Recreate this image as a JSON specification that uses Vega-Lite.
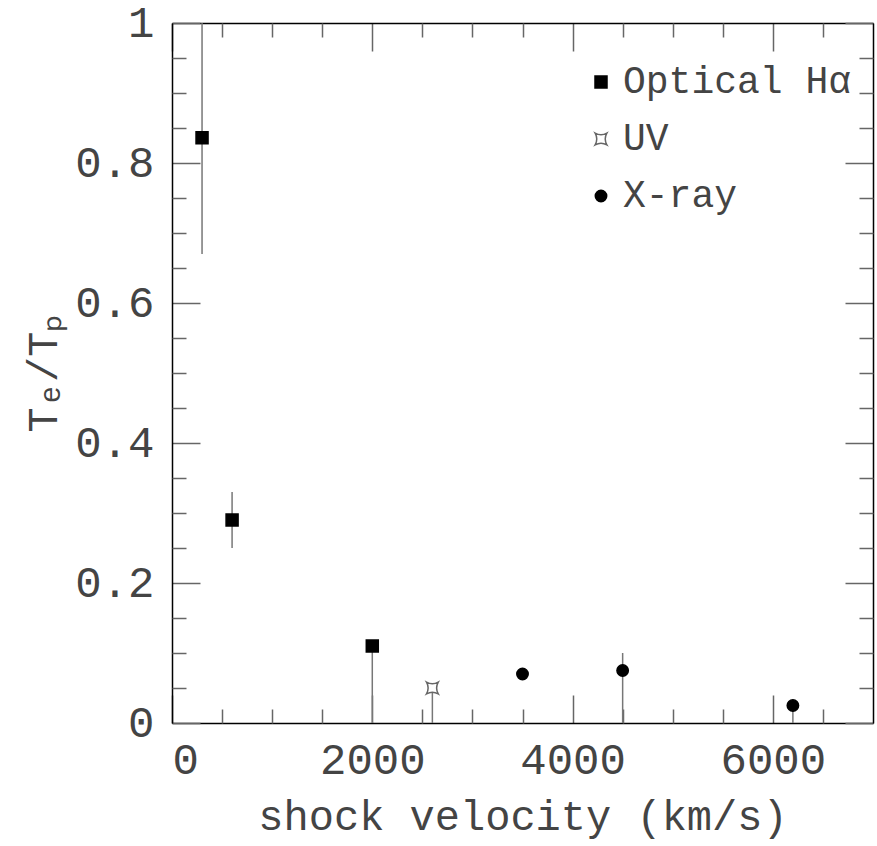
{
  "$schema": "https://vega.github.io/schema/vega-lite/v6.json",
  "width": 701,
  "height": 700,
  "autosize": {"type": "none"},
  "padding": {"left": 172, "top": 23, "right": 4, "bottom": 123},
  "background": "white",
  "config": {
    "view": {"stroke": null},
    "axis": {
      "grid": false,
      "domainColor": "#000",
      "domainWidth": 1.5,
      "tickColor": "#666",
      "tickWidth": 1.5,
      "labelFont": "Liberation Mono",
      "titleFont": "Liberation Mono",
      "labelColor": "#444",
      "titleColor": "#444",
      "labelFontWeight": "normal",
      "titleFontWeight": "normal"
    },
    "legend": {
      "orient": "none",
      "legendX": 410,
      "legendY": 40,
      "labelFont": "Liberation Mono",
      "labelFontSize": 38,
      "labelColor": "#444",
      "labelLimit": 0,
      "rowPadding": 19,
      "labelOffset": 3,
      "symbolStrokeWidth": 1.5,
      "padding": 0
    }
  },
  "data": {
    "values": [
      {"type": "Optical Hα", "v": 300, "r": 0.836, "lo": 0.67, "hi": 1.0},
      {"type": "Optical Hα", "v": 600, "r": 0.29, "lo": 0.25, "hi": 0.33},
      {"type": "Optical Hα", "v": 2000, "r": 0.11, "lo": 0, "hi": 0.11},
      {"type": "UV", "v": 2600, "r": 0.05, "lo": 0, "hi": 0.05},
      {"type": "X-ray", "v": 3500, "r": 0.07, "lo": null, "hi": null},
      {"type": "X-ray", "v": 4500, "r": 0.075, "lo": 0, "hi": 0.1},
      {"type": "X-ray", "v": 6200, "r": 0.025, "lo": 0, "hi": 0.025}
    ]
  },
  "resolve": {"axis": {"x": "independent", "y": "independent"}},
  "layer": [
    {
      "mark": {"type": "rule", "color": "#777", "strokeWidth": 1.5},
      "encoding": {
        "x": {
          "field": "v", "type": "quantitative",
          "scale": {"domain": [0, 7000], "nice": false},
          "axis": {
            "orient": "bottom", "values": [0, 2000, 4000, 6000], "format": "d",
            "tickSize": -28, "labelFontSize": 44, "labelPadding": 43,
            "title": "shock velocity (km/s)", "titleFontSize": 42, "titlePadding": 14
          }
        },
        "y": {
          "field": "lo", "type": "quantitative",
          "scale": {"domain": [0, 1], "nice": false},
          "axis": {
            "orient": "left", "values": [0, 0.2, 0.4, 0.6, 0.8, 1], "format": "~g",
            "tickSize": -28, "labelFontSize": 44, "labelPadding": 46,
            "title": "Tₑ/Tₚ", "titleFontSize": 42, "titlePadding": 9
          }
        },
        "y2": {"field": "hi"}
      }
    },
    {
      "mark": {"type": "point", "strokeWidth": 1.5, "opacity": 1},
      "encoding": {
        "x": {
          "field": "v", "type": "quantitative",
          "scale": {"domain": [0, 7000], "nice": false},
          "axis": {"orient": "top", "values": [0, 2000, 4000, 6000], "tickSize": -28, "labels": false, "title": null}
        },
        "y": {
          "field": "r", "type": "quantitative",
          "scale": {"domain": [0, 1], "nice": false},
          "axis": {"orient": "right", "values": [0, 0.2, 0.4, 0.6, 0.8, 1], "tickSize": -28, "labels": false, "title": null}
        },
        "shape": {
          "field": "type", "type": "nominal", "title": null,
          "scale": {"domain": ["Optical Hα", "UV", "X-ray"], "range": ["square", "M-1,-1Q0,-0.45,1,-1Q0.45,0,1,1Q0,0.45,-1,1Q-0.45,0,-1,-1Z", "circle"]}
        },
        "fill": {
          "field": "type", "type": "nominal", "title": null,
          "scale": {"domain": ["Optical Hα", "UV", "X-ray"], "range": ["#000", "#fff", "#000"]}
        },
        "stroke": {
          "field": "type", "type": "nominal", "title": null,
          "scale": {"domain": ["Optical Hα", "UV", "X-ray"], "range": ["#000", "#666", "#000"]}
        },
        "size": {
          "field": "type", "type": "nominal", "title": null,
          "scale": {"domain": ["Optical Hα", "UV", "X-ray"], "range": [144, 130, 270]}
        }
      }
    },
    {
      "mark": {"type": "point", "opacity": 0},
      "encoding": {
        "x": {
          "field": "v", "type": "quantitative",
          "scale": {"domain": [0, 7000], "nice": false},
          "axis": {"orient": "bottom", "values": [500, 1000, 1500, 2500, 3000, 3500, 4500, 5000, 5500, 6500], "tickSize": -14, "labels": false, "domain": false, "title": null}
        },
        "y": {
          "field": "r", "type": "quantitative",
          "scale": {"domain": [0, 1], "nice": false},
          "axis": {"orient": "left", "values": [0.05, 0.1, 0.15, 0.25, 0.3, 0.35, 0.45, 0.5, 0.55, 0.65, 0.7, 0.75, 0.85, 0.9, 0.95], "tickSize": -14, "labels": false, "domain": false, "title": null}
        }
      }
    },
    {
      "mark": {"type": "point", "opacity": 0},
      "encoding": {
        "x": {
          "field": "v", "type": "quantitative",
          "scale": {"domain": [0, 7000], "nice": false},
          "axis": {"orient": "top", "values": [500, 1000, 1500, 2500, 3000, 3500, 4500, 5000, 5500, 6500], "tickSize": -14, "labels": false, "domain": false, "title": null}
        },
        "y": {
          "field": "r", "type": "quantitative",
          "scale": {"domain": [0, 1], "nice": false},
          "axis": {"orient": "right", "values": [0.05, 0.1, 0.15, 0.25, 0.3, 0.35, 0.45, 0.5, 0.55, 0.65, 0.7, 0.75, 0.85, 0.9, 0.95], "tickSize": -14, "labels": false, "domain": false, "title": null}
        }
      }
    }
  ]
}
